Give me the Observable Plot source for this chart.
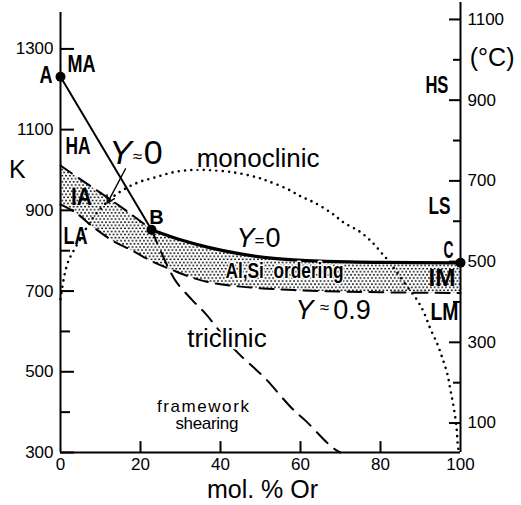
<!DOCTYPE html>
<html><head><meta charset="utf-8">
<script src="https://cdn.jsdelivr.net/npm/d3@7"></script>
<script src="https://cdn.jsdelivr.net/npm/@observablehq/plot@0.6"></script>
<style>body{margin:0;background:#fff}</style>
</head><body><div id="chart"></div>
<script>
// ---- data (x = mol.% Or, k = temperature in K) ----
const xTicks = [0, 20, 40, 60, 80, 100];
const xInnerTicks = [20, 40, 60, 80];
const kMajor = [300, 500, 700, 900, 1100, 1300];
const kMinor = [400, 600, 800];
const cMajor = [100, 300, 500, 700, 900, 1100];
const cMinor = [200, 400, 600, 800, 1000];

const keyPoints = [
  {name: "A", x: 0, k: 1231},
  {name: "B", x: 22.75, k: 852},
  {name: "C", x: 100, k: 770}
];
const lineAB = [[0, 1231], [22.75, 852]];
const yZeroDashed = [[0, 1011], [6, 970], [12, 930], [18, 888], [22.75, 852]];
const yZeroSolid = [[22.75, 852], [30, 827], [36.7, 809], [45, 792], [53.3, 781], [65, 774], [80, 771], [100, 770]];
const yNineDashed = [[0, 915], [4, 893], [8, 860], [13, 825], [18, 800], [23, 773], [28, 752], [33, 733], [38, 720], [45, 711], [55, 704], [65, 700], [80, 697], [100, 695]];
const triclinic = [[22.75, 852], [25, 800], [27, 757], [29, 722], [33, 677], [36.25, 644], [43.75, 553], [48.25, 511], [51.25, 483], [57.9, 409], [61.25, 379], [67.9, 313], [70, 300]];
const monoclinic = [[0, 680], [1, 740], [2, 775], [3, 795], [5, 830], [8, 880], [12, 924], [15.4, 949], [19.6, 970], [23.75, 982], [28, 994], [32.5, 1000], [36.7, 1000], [43.3, 994], [49, 982], [52, 972], [56.7, 953], [60, 935], [63.3, 920], [67.5, 895], [70.8, 870], [75, 846], [78.3, 817], [80.8, 788], [82, 775], [86, 720], [89.2, 677], [90.8, 648], [92.5, 606], [94.2, 569], [95.4, 536], [96.7, 495], [97.5, 454], [98.3, 412], [99, 363], [99.3, 321], [99.6, 300]];
const arrowY0 = [{x1: 16.25, k1: 1003, x2: 11.7, k2: 918}];

// annotation labels
const fieldLabels = [
  {t: "A", x: -3.6, k: 1234}, {t: "MA", x: 5.25, k: 1262}, {t: "HA", x: 4.4, k: 1059},
  {t: "IA", x: 5.25, k: 933}, {t: "LA", x: 3.75, k: 835},
  {t: "HS", x: 94.1, k: 1209}, {t: "LS", x: 94.75, k: 909}, {t: "C", x: 97, k: 800},
  {t: "IM", x: 95.4, k: 732}, {t: "LM", x: 96, k: 647}
];
const orderingLabels = [{t: "Al,Si\u00a0\u00a0ordering", x: 56, k: 749}];
const phaseLabels = [{t: "monoclinic", x: 49.4, k: 1027}, {t: "triclinic", x: 41.6, k: 581}];
const shearLabels = [{t: "framework", x: 35.6, k: 415}, {t: "shearing", x: 36.6, k: 371}];
const yLetters = [{t: "Y", x: 15, k: 1041}, {t: "Y", x: 46.25, k: 831}, {t: "Y", x: 61, k: 652}];
const yRest = [{t: "0", x: 23.2, k: 1041}, {t: "0", x: 53.1, k: 831}, {t: "0.9", x: 72.9, k: 652}];
const ySigns = [{t: "≈", x: 19.2, k: 1033}, {t: "=", x: 49.75, k: 825}, {t: "≈", x: 66, k: 658}];
const bLabel = [{t: "B", x: 24, k: 883}];
const axisTitles = [{t: "K", x: -10.8, k: 999}, {t: "(°C)", x: 107.9, k: 1277}, {t: "mol. % Or", x: 50.5, k: 206}];

// ---- styles ----
const yLetterSize = [34, 27, 27];
const yLetterWidth = [15, 16, 12];
const condensedWidth = {"A": 13, "MA": 28, "HA": 25, "IA": 21, "LA": 24, "HS": 23, "LS": 22, "C": 10, "IM": 27, "LM": 28, "Al,Si\u00a0\u00a0ordering": 118};
const spacedWidth = {"framework": 92, "shearing": 63};

// ---- chart ----
const bandPoly = [...yZeroDashed, ...yZeroSolid.slice(1), ...yNineDashed.slice().reverse()];
const sans = "'Liberation Sans', Arial, sans-serif";
const dash = {stroke: "black", strokeWidth: 2, strokeDasharray: "14 8", curve: "catmull-rom"};
const halo = w => ({fill: "black", stroke: "white", strokeWidth: w});

const plot = Plot.plot({
  width: 521, height: 505,
  marginLeft: 60, marginRight: 61, marginTop: 2, marginBottom: 53,
  x: {domain: [0, 100]},
  y: {domain: [300, 1415]},
  style: {fontFamily: sans, fontSize: "17px", background: "white", overflow: "visible", color: "black"},
  marks: [
    Plot.line(bandPoly, {x: d => d[0], y: d => d[1], fill: "url(#stipple)", stroke: "none"}),
    // axes lines
    Plot.ruleX([0], {y1: 300, y2: 1390, strokeWidth: 2}),
    Plot.ruleX([100], {y1: 300, y2: 1415, strokeWidth: 2}),
    Plot.ruleY([300], {x1: 0, x2: 100, strokeWidth: 2}),
    // inward ticks
    Plot.ruleY(kMajor, {y: d => d, x1: 0, x2: 3.5, strokeWidth: 2}),
    Plot.ruleY(kMinor, {y: d => d, x1: 0, x2: 2.5, strokeWidth: 2}),
    Plot.ruleY(cMajor, {y: d => d + 273, x1: 97.25, x2: 100, strokeWidth: 2}),
    Plot.ruleY(cMinor, {y: d => d + 273, x1: 98.25, x2: 100, strokeWidth: 2}),
    Plot.ruleX(xInnerTicks, {x: d => d, y1: 300, y2: 327, strokeWidth: 2}),
    // tick labels
    Plot.axisX(xTicks, {anchor: "bottom", tickSize: 0, tickPadding: 5, label: null, fontSize: 17, tickFormat: d => String(d)}),
    Plot.axisY(kMajor, {anchor: "left", tickSize: 0, tickPadding: 7, label: null, fontSize: 17, tickFormat: d => String(d)}),
    Plot.axisY(cMajor.map(c => c + 273), {anchor: "right", tickSize: 0, tickPadding: 7, label: null, fontSize: 17, tickFormat: d => String(d - 273)}),
    // curves
    Plot.line(monoclinic, {x: d => d[0], y: d => d[1], stroke: "black", strokeWidth: 2.6, strokeDasharray: "0 6.3", strokeLinecap: "round", curve: "catmull-rom"}),
    Plot.line(yZeroDashed, {x: d => d[0], y: d => d[1], ...dash}),
    Plot.line(yNineDashed, {x: d => d[0], y: d => d[1], ...dash}),
    Plot.line(triclinic, {x: d => d[0], y: d => d[1], ...dash, strokeDasharray: "15 9"}),
    Plot.line(lineAB, {x: d => d[0], y: d => d[1], stroke: "black", strokeWidth: 2}),
    Plot.line(yZeroSolid, {x: d => d[0], y: d => d[1], stroke: "black", strokeWidth: 3.2, curve: "catmull-rom"}),
    Plot.arrow(arrowY0, {x1: "x1", y1: "k1", x2: "x2", y2: "k2", strokeWidth: 1.4, headLength: 9}),
    // labels
    Plot.text(fieldLabels, {x: "x", y: "k", text: "t", fontWeight: "bold", fontSize: 24, fill: "black"}),
    Plot.text(orderingLabels, {x: "x", y: "k", text: "t", fontWeight: "bold", fontSize: 22, ...halo(3)}),
    Plot.text(phaseLabels, {x: "x", y: "k", text: "t", fontSize: 26, ...halo(5)}),
    Plot.text(shearLabels, {x: "x", y: "k", text: "t", fontSize: 17, fill: "black"}),
    Plot.text(yLetters, {x: "x", y: "k", text: "t", fontSize: (d, i) => yLetterSize[i], fontStyle: "italic", ...halo(4), ariaLabel: "ylet"}),
    Plot.text(yRest, {x: "x", y: "k", text: "t", fontSize: (d, i) => yLetterSize[i], ...halo(4)}),
    Plot.text(ySigns, {x: "x", y: "k", text: "t", fontSize: 17, fill: "black"}),
    Plot.text(bLabel, {x: "x", y: "k", text: "t", fontSize: 20, fontWeight: "bold", fill: "black"}),
    Plot.text(axisTitles, {x: "x", y: "k", text: "t", fontSize: 25, fill: "black"}),
    Plot.dot(keyPoints, {x: "x", y: "k", r: 5, fill: "black"})
  ]
});

// condensed lettering as in the original figure
d3.select(plot).selectAll("text").each(function () {
  const t = this.textContent;
  if (condensedWidth[t] !== undefined && this.closest('g[aria-label="text"]')) {
    this.setAttribute("textLength", condensedWidth[t]);
    this.setAttribute("lengthAdjust", "spacingAndGlyphs");
  } else if (spacedWidth[t] !== undefined) {
    this.setAttribute("textLength", spacedWidth[t]);
    this.setAttribute("lengthAdjust", "spacing");
  }
});
d3.select(plot).selectAll('g[aria-label="ylet"] text').each(function (d, i) {
  this.setAttribute("textLength", yLetterWidth[i]);
  this.setAttribute("lengthAdjust", "spacingAndGlyphs");
});

const defs = d3.select(plot).insert("defs", ":first-child");
const pat = defs.append("pattern").attr("id", "stipple").attr("patternUnits", "userSpaceOnUse")
  .attr("width", 3.8).attr("height", 6.2);
pat.append("circle").attr("cx", 0.95).attr("cy", 1.55).attr("r", 0.95).attr("fill", "#000");
pat.append("circle").attr("cx", 2.85).attr("cy", 4.65).attr("r", 0.95).attr("fill", "#000");

document.getElementById("chart").appendChild(plot);
</script></body></html>
